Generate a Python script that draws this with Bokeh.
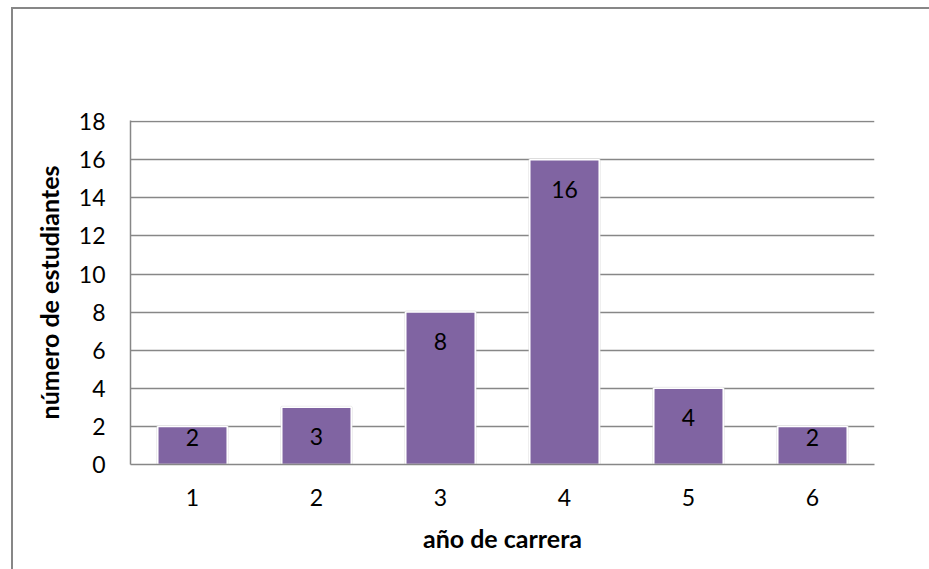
from bokeh.plotting import figure
from bokeh.models import FactorRange, Range1d, FixedTicker, ColumnDataSource
from bokeh.embed import file_html
from bokeh.resources import INLINE
from bokeh.core.properties import value

years = ["1", "2", "3", "4", "5", "6"]
students = [2, 3, 8, 16, 4, 2]
y_ticks = [0, 2, 4, 6, 8, 10, 12, 14, 16, 18]
x_title = "año de carrera"
y_title = "número de estudiantes"

FONT = "Lato"
GRAY = "#878787"
BAR = "#8064A2"

label_y = [max(v - 1.55, 1.42) for v in students]
src = ColumnDataSource(dict(x=years, top=students, ly=label_y, txt=[str(v) for v in students]))

p = figure(x_range=FactorRange(*years, range_padding=0), y_range=Range1d(0, 18.06),
           frame_width=744, frame_height=344,
           min_border_left=117, min_border_right=56, min_border_top=111, min_border_bottom=110,
           output_backend="svg", toolbar_location=None)
p.margin = (7, 0, 0, 11)
p.styles = {"border": "2px solid " + GRAY}
p.outline_line_color = None

# subtle shadow
p.vbar(x="x", top="top", width=0.56, source=src, fill_color="#000000", fill_alpha=0.0,
       line_color="#d9d9d9", line_width=3, line_alpha=0.6)
p.vbar(x="x", top="top", width=0.56, source=src, fill_color=BAR, line_color="white", line_width=1.5)
p.text(x="x", y="ly", text="txt", source=src, text_align="center", text_baseline="middle",
       text_font=value(FONT), text_font_size="23px", text_color="black")

p.xgrid.grid_line_color = None
p.ygrid.grid_line_color = GRAY
p.ygrid.grid_line_width = 1.5
p.ygrid.ticker = FixedTicker(ticks=y_ticks)

p.yaxis.ticker = FixedTicker(ticks=y_ticks)
for ax in (p.xaxis[0], p.yaxis[0]):
    ax.axis_line_color = GRAY
    ax.axis_line_width = 1.5
    ax.major_tick_line_color = None
    ax.minor_tick_line_color = None
    ax.major_tick_in = 0
    ax.major_tick_out = 0
    ax.major_label_text_font = FONT
    ax.major_label_text_font_size = "23px"
    ax.major_label_text_color = "black"
    ax.axis_label_text_font = FONT
    ax.axis_label_text_font_size = "25px"
    ax.axis_label_text_font_style = "bold"
    ax.axis_label_text_color = "black"

p.xaxis.axis_label = x_title
p.yaxis.axis_label = y_title
p.yaxis.major_label_standoff = 25
p.xaxis.major_label_standoff = 24
p.yaxis.axis_label_standoff = 12
p.xaxis.axis_label_standoff = 14

open("out.html", "w").write(file_html(p, INLINE))
